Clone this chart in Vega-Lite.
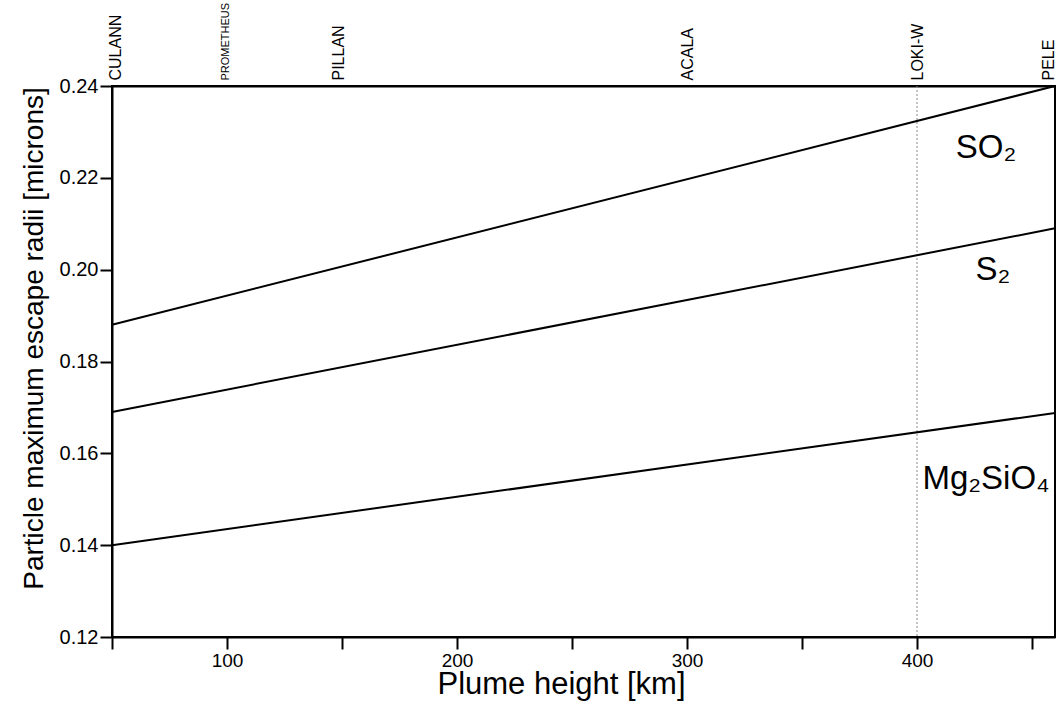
{
  "$schema": "https://vega.github.io/schema/vega-lite/v6.json",
  "width": 943,
  "height": 551,
  "autosize": {"type": "none"},
  "padding": {"left": 112, "top": 86, "right": 2, "bottom": 70},
  "background": "white",
  "config": {
    "view": {"stroke": "black", "strokeWidth": 2},
    "font": "Liberation Sans",
    "axis": {"domainColor": "black", "tickColor": "black", "labelColor": "black", "titleColor": "black", "grid": false, "domainWidth": 2, "tickWidth": 2}
  },
  "datasets": {
    "lines": [
      {"species": "SO2", "h": 50, "r": 0.188},
      {"species": "SO2", "h": 460, "r": 0.240},
      {"species": "S2", "h": 50, "r": 0.169},
      {"species": "S2", "h": 460, "r": 0.209},
      {"species": "Mg2SiO4", "h": 50, "r": 0.140},
      {"species": "Mg2SiO4", "h": 460, "r": 0.1688}
    ],
    "labels": [
      {"name": "SO₂", "h": 430, "r": 0.2265},
      {"name": "S₂", "h": 433, "r": 0.1999},
      {"name": "Mg₂SiO₄", "h": 430, "r": 0.1545}
    ],
    "vents": [
      {"vent": "LOKI-W", "h": 400}
    ]
  },
  "resolve": {"axis": {"x": "independent", "y": "independent"}},
  "layer": [
    {
      "data": {"name": "vents"},
      "mark": {"type": "rule", "color": "#888888", "strokeWidth": 1, "strokeDash": [2, 2]},
      "encoding": {
        "x": {"field": "h", "type": "quantitative", "scale": {"domain": [50, 460], "nice": false, "zero": false},
          "axis": {"orient": "bottom", "values": [50, 100, 150, 200, 250, 300, 350, 400, 450], "labelExpr": "datum.value % 100 == 0 ? datum.value : ''", "tickSize": 12, "labelFontSize": 19, "labelPadding": 2, "title": "Plume height [km]", "titleFontSize": 31, "titleFontWeight": "normal", "titleX": 449, "titleY": 56, "titleAlign": "center", "titleBaseline": "alphabetic"}}
      }
    },
    {
      "data": {"name": "lines"},
      "mark": {"type": "line", "color": "black", "strokeWidth": 2},
      "encoding": {
        "x": {"field": "h", "type": "quantitative",
          "axis": {"orient": "top", "values": [51.5, 99.5, 148.5, 300, 400, 457], "labelExpr": "datum.value == 51.5 ? 'CULANN' : datum.value == 99.5 ? 'PROMETHEUS' : datum.value == 148.5 ? 'PILLAN' : datum.value == 300 ? 'ACALA' : datum.value == 400 ? 'LOKI-W' : 'PELE'", "labelAngle": 270, "labelAlign": "left", "labelBaseline": "middle", "ticks": false, "labelPadding": 6, "labelFontSize": {"condition": {"test": "datum.value == 99.5", "value": 11}, "value": 16}, "labelBound": false, "labelOverlap": false, "title": null}},
        "y": {"field": "r", "type": "quantitative", "scale": {"domain": [0.12, 0.24], "nice": false, "zero": false},
          "axis": {"orient": "left", "values": [0.12, 0.14, 0.16, 0.18, 0.2, 0.22, 0.24], "format": ".2f", "tickSize": 12, "labelFontSize": 20, "labelPadding": 2, "title": "Particle maximum escape radii [microns]", "titleFontSize": 28, "titleFontWeight": "normal", "titleX": -70, "titleY": 252, "titleAlign": "center", "titleBaseline": "alphabetic"}},
        "detail": {"field": "species"}
      }
    },
    {
      "data": {"name": "labels"},
      "mark": {"type": "text", "fontSize": 33, "font": "Liberation Sans", "color": "black"},
      "encoding": {
        "x": {"field": "h", "type": "quantitative", "axis": null},
        "y": {"field": "r", "type": "quantitative", "axis": null},
        "text": {"field": "name"}
      }
    }
  ]
}
